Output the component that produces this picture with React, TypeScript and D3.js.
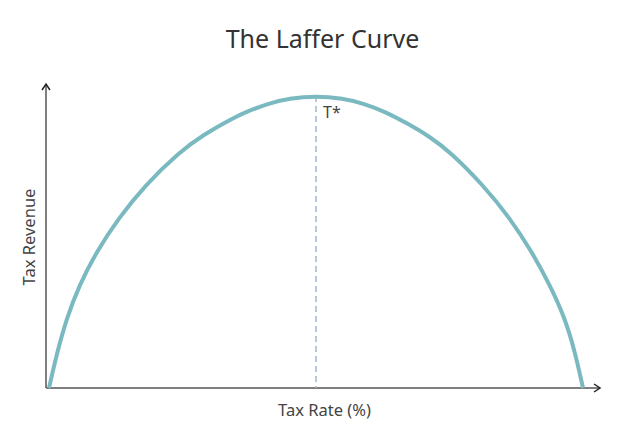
import React from "react";
import * as d3 from "d3";

const taxRate = [0, 1.55, 3.3, 5.7, 8.9, 13, 18, 24.5, 28.8, 34.5, 37, 41, 45, 50, 55, 59, 63, 67.6, 71.2, 75.1, 81.3, 86.3, 90.4, 93.8, 96.6, 98.5, 100];
const revenue = [0, 12.4, 23.9, 35.3, 46.7, 58.1, 69.5, 80.9, 86.6, 92.5, 94.6, 97.4, 99.2, 100, 99.2, 97.4, 94.6, 90.1, 86.2, 80.9, 69.5, 58.2, 46.7, 35.3, 24, 12.4, 0];
const optimumRate = 50;
const titleText = "The Laffer Curve";
const xLabel = "Tax Rate (%)";
const yLabel = "Tax Revenue";
const optimumLabel = "T*";

export default function App() {
  const W = 624, H = 437;
  const x = d3.scaleLinear().domain([0, 100]).range([49, 583]);
  const y = d3.scaleLinear().domain([0, 100]).range([388, 96]);
  const pts: [number, number][] = taxRate.map((t, i) => [t, revenue[i]]);
  const line = d3.line<[number, number]>()
    .x(d => x(d[0]))
    .y(d => y(d[1]))
    .curve(d3.curveBasis);
  const font = "'Noto Sans', 'Open Sans', sans-serif";
  const axisColor = "#555";
  const x0 = 46, y0 = 388;
  return (
    <svg width={W} height={H} style={{ position: "fixed", left: 0, top: 0, background: "#fff" }}>
      <text x={322.5} y={48} textAnchor="middle" fontFamily={font} fontSize={25} fill="#333">{titleText}</text>
      <line x1={x0} y1={y0} x2={x0} y2={84} stroke={axisColor} strokeWidth={1.5} />
      <polyline points={`${x0 - 4},${90} ${x0},${84} ${x0 + 4},${90}`} fill="none" stroke="#222" strokeWidth={1.5} />
      <line x1={x0} y1={y0} x2={600} y2={y0} stroke={axisColor} strokeWidth={1.5} />
      <polyline points={`${594},${y0 - 4} ${600},${y0} ${594},${y0 + 4}`} fill="none" stroke="#222" strokeWidth={1.5} />
      <line x1={x(optimumRate)} y1={y(100)} x2={x(optimumRate)} y2={y0} stroke="#a3b5d1" strokeWidth={1.5} strokeDasharray="6,4" />
      <path d={line(pts) || ""} fill="none" stroke="#7bb9c1" strokeWidth={4} />
      <text x={x(optimumRate) + 7} y={118} fontFamily={font} fontSize={16} fill="#444">{optimumLabel}</text>
      <text x={324.5} y={416} textAnchor="middle" fontFamily={font} fontSize={16.5} fill="#444">{xLabel}</text>
      <text transform={`translate(35,237) rotate(-90)`} textAnchor="middle" fontFamily={font} fontSize={16.5} fill="#444">{yLabel}</text>
    </svg>
  );
}
